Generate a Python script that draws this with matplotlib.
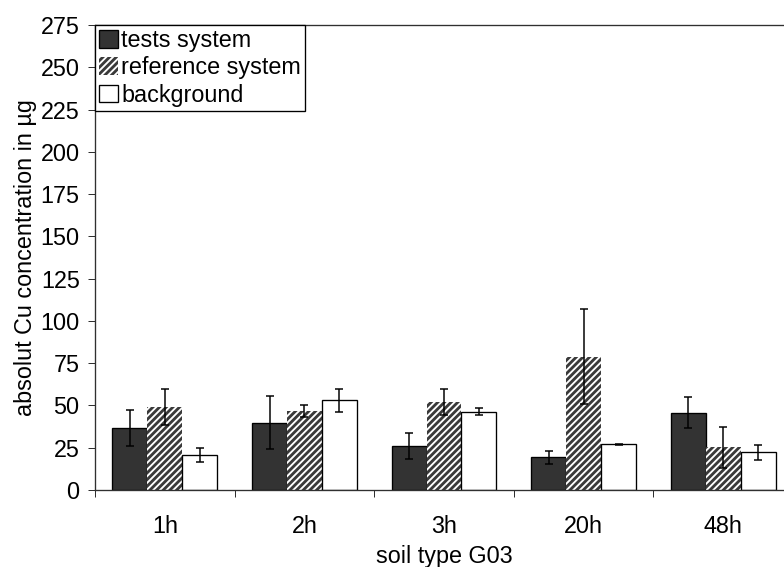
import numpy as np
import matplotlib
matplotlib.use("Agg")
import matplotlib.pyplot as plt

# Cu amounts per sampling time, soil type G03
times = ["1h", "2h", "3h", "20h", "48h"]
tests_system = [36.8, 39.8, 26.0, 19.3, 45.7]
tests_err = [10.7, 15.5, 7.9, 4.0, 9.2]
reference_system = [49.1, 46.7, 52.0, 78.8, 25.2]
reference_err = [10.7, 3.5, 7.9, 28.0, 12.3]
background = [20.7, 53.2, 46.3, 27.0, 22.3]
background_err = [4.1, 6.8, 2.0, 0.5, 4.5]
y_ticks = [0, 25, 50, 75, 100, 125, 150, 175, 200, 225, 250, 275]

plt.rcParams["font.family"] = ["Liberation Sans", "DejaVu Sans"]
plt.rcParams["hatch.linewidth"] = 1.7

FS = 14
DPI = 120
fig = plt.figure(figsize=(784 / DPI, 567 / DPI), dpi=DPI)
ax = fig.add_axes([95 / 784, 1 - 490 / 567, 698 / 784, 465 / 567])

x = np.arange(len(times))
w = 0.25
err_kw = dict(ecolor="black", elinewidth=0.9, capsize=2.2, capthick=0.9)

b1 = ax.bar(x - w, tests_system, w, yerr=tests_err, color="#333333",
            edgecolor="black", linewidth=0.8, error_kw=err_kw,
            label="tests system", zorder=2)
b2 = ax.bar(x, reference_system, w, yerr=reference_err, color="white",
            edgecolor="#3a3a3a", hatch="//////", linewidth=0, error_kw=err_kw,
            label="reference system", zorder=2)
b3 = ax.bar(x + w, background, w, yerr=background_err, color="white",
            edgecolor="black", linewidth=0.8, error_kw=err_kw,
            label="background", zorder=2)

ax.set_xlim(-0.5, len(times) - 0.5)
ax.set_ylim(0, 275)
ax.set_yticks(y_ticks)
ax.tick_params(axis="y", direction="out", length=4.2, width=0.6,
               labelsize=FS, pad=5, color="#303030")

# category boundaries carry the tick marks, centres carry the labels
ax.set_xticks(np.arange(len(times) + 1) - 0.5)
ax.set_xticklabels([])
ax.set_xticks(x, minor=True)
ax.set_xticklabels(times, minor=True)
ax.tick_params(axis="x", which="major", direction="out", length=4.2,
               width=0.6, color="#303030")
ax.tick_params(axis="x", which="minor", length=0, labelsize=FS, pad=15)

for side in ["left", "bottom", "top", "right"]:
    ax.spines[side].set_color("#303030")
    ax.spines[side].set_linewidth(0.8)

ax.set_ylabel("absolut Cu concentration in µg", fontsize=FS, labelpad=2)
ax.set_xlabel("soil type G03", fontsize=FS, labelpad=4)

leg = ax.legend(loc="upper left", bbox_to_anchor=(0, 1), borderaxespad=0,
                fancybox=False, edgecolor="black", framealpha=1,
                fontsize=FS, handlelength=0.8, handleheight=0.8,
                handletextpad=0.15, labelspacing=0.18, borderpad=0.18)
leg.get_frame().set_linewidth(0.8)

fig.savefig("out.png", dpi=DPI)
